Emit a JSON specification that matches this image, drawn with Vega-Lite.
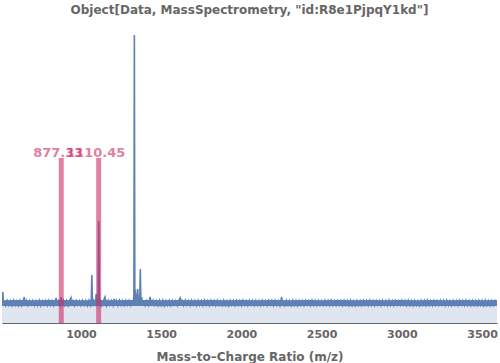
{
"$schema": "https://vega.github.io/schema/vega-lite/v6.json",
"width": 495, "height": 300,
"autosize": {"type": "none"},
"padding": {"left": 2, "top": 23, "right": 3, "bottom": 40},
"background": "white",
"title": {"text": "Object[Data, MassSpectrometry, \"id:R8e1PjpqY1kd\"]", "font": "DejaVu Sans", "fontSize": 12, "fontWeight": "bold", "color": "#666666", "offset": 6, "anchor": "middle"},
"config": {"view": {"stroke": null}},
"resolve": {"axis": {"x": "independent"}},
"datasets": {
"spec": [
{"m":508,"i":18},{"m":513,"i":31},{"m":518,"i":17.8},
{"m":520,"i":22.2},{"m":530,"i":17.6},{"m":540,"i":22.5},{"m":550,"i":17.9},{"m":560,"i":22.1},{"m":570,"i":17.5},{"m":580,"i":22.6},{"m":590,"i":18},{"m":600,"i":22},{"m":610,"i":17.7},
{"m":620,"i":22.4},{"m":630,"i":17.5},{"m":640,"i":22.3},{"m":647,"i":26},{"m":650,"i":17.9},{"m":660,"i":22.5},{"m":670,"i":17.6},{"m":680,"i":22.1},{"m":690,"i":18.1},{"m":700,"i":22.4},
{"m":710,"i":17.5},{"m":720,"i":22.2},{"m":730,"i":17.8},{"m":740,"i":22.6},{"m":750,"i":17.4},{"m":760,"i":22},{"m":770,"i":18},{"m":780,"i":22.3},{"m":790,"i":17.6},{"m":800,"i":22.5},
{"m":810,"i":17.9},{"m":820,"i":22.2},{"m":830,"i":17.5},{"m":840,"i":22.4},{"m":846,"i":25},{"m":850,"i":17.7},{"m":860,"i":22.1},{"m":870,"i":18},{"m":877,"i":26},{"m":880,"i":17.6},{"m":890,"i":22.5},
{"m":900,"i":17.8},{"m":910,"i":22.3},{"m":920,"i":17.5},{"m":930,"i":22.6},{"m":938,"i":25},{"m":940,"i":17.9},{"m":950,"i":22.2},{"m":960,"i":17.6},{"m":970,"i":22.4},{"m":980,"i":18.1},{"m":990,"i":22},
{"m":1000,"i":17.5},{"m":1010,"i":22.5},{"m":1020,"i":17.8},{"m":1030,"i":22.2},{"m":1040,"i":17.4},{"m":1050,"i":22.6},{"m":1060,"i":17.9},{"m":1064,"i":21},{"m":1068,"i":48},{"m":1072,"i":18},{"m":1080,"i":22.3},{"m":1090,"i":17.6},{"m":1095,"i":29},{"m":1100,"i":17.8},
{"m":1107,"i":22},{"m":1111,"i":102},{"m":1115,"i":18.5},{"m":1120,"i":22.4},{"m":1130,"i":17.5},{"m":1140,"i":22.1},{"m":1150,"i":26},{"m":1160,"i":17.7},{"m":1170,"i":22.5},{"m":1180,"i":18},{"m":1190,"i":22.2},
{"m":1200,"i":17.6},{"m":1207,"i":24},{"m":1210,"i":17.8},{"m":1220,"i":22.4},{"m":1230,"i":17.5},{"m":1240,"i":22.6},{"m":1250,"i":17.9},{"m":1260,"i":22.1},{"m":1270,"i":17.6},{"m":1280,"i":22.5},{"m":1290,"i":18},
{"m":1300,"i":22.3},{"m":1310,"i":17.7},{"m":1320,"i":22.6},{"m":1325,"i":18},{"m":1330,"i":28},{"m":1333,"i":288},{"m":1336,"i":19},{"m":1340,"i":33},{"m":1344,"i":20},{"m":1348,"i":29},{"m":1351,"i":21},{"m":1354,"i":34},{"m":1358,"i":20},{"m":1362,"i":27},{"m":1366,"i":19},{"m":1370,"i":54},{"m":1374,"i":18},{"m":1378,"i":26},{"m":1385,"i":17.8},{"m":1390,"i":22.4},
{"m":1400,"i":17.5},{"m":1410,"i":22.2},{"m":1420,"i":17.9},{"m":1431,"i":26},{"m":1440,"i":17.6},{"m":1450,"i":22.5},{"m":1460,"i":18},{"m":1470,"i":22.1},{"m":1480,"i":17.5},{"m":1490,"i":22.4},
{"m":1500,"i":17.8},{"m":1510,"i":22.6},{"m":1520,"i":17.4},{"m":1530,"i":22.2},{"m":1540,"i":17.9},{"m":1550,"i":22.5},{"m":1560,"i":17.6},{"m":1570,"i":22.3},{"m":1580,"i":18.1},{"m":1590,"i":22},
{"m":1600,"i":17.5},{"m":1610,"i":22.4},{"m":1618,"i":25},{"m":1625,"i":17.8},{"m":1630,"i":22.2},{"m":1640,"i":17.6},{"m":1650,"i":22.6},{"m":1660,"i":17.9},{"m":1670,"i":22.1},{"m":1680,"i":17.5},{"m":1690,"i":22.5},
{"m":1700,"i":18},{"m":1710,"i":22.3},{"m":1720,"i":17.6},{"m":1730,"i":22.4},{"m":1740,"i":17.8},{"m":1750,"i":22.1},{"m":1760,"i":17.5},{"m":1770,"i":22.6},{"m":1780,"i":17.9},{"m":1790,"i":22.2},
{"m":1800,"i":17.6},{"m":1810,"i":22.5},{"m":1820,"i":18},{"m":1830,"i":22.3},{"m":1840,"i":17.5},{"m":1850,"i":22.4},{"m":1860,"i":17.8},{"m":1870,"i":22},{"m":1880,"i":17.6},{"m":1890,"i":22.6},
{"m":1900,"i":17.9},{"m":1910,"i":22.2},{"m":1920,"i":17.4},{"m":1930,"i":22.5},{"m":1940,"i":18.1},{"m":1950,"i":22.3},{"m":1960,"i":17.6},{"m":1970,"i":22.4},{"m":1980,"i":17.8},{"m":1990,"i":22.1},
{"m":2000,"i":17.5},{"m":2010,"i":22.6},{"m":2020,"i":17.9},{"m":2030,"i":22.2},{"m":2040,"i":17.6},{"m":2050,"i":22.5},{"m":2060,"i":18},{"m":2070,"i":22.3},{"m":2080,"i":17.5},{"m":2090,"i":22.4},
{"m":2100,"i":17.8},{"m":2110,"i":22.1},{"m":2120,"i":17.6},{"m":2130,"i":22.6},{"m":2140,"i":17.9},{"m":2150,"i":22.2},{"m":2160,"i":17.5},{"m":2170,"i":22.5},{"m":2180,"i":18},{"m":2190,"i":22.3},
{"m":2200,"i":17.6},{"m":2210,"i":22.4},{"m":2220,"i":17.8},{"m":2230,"i":22.1},{"m":2240,"i":17.5},{"m":2251,"i":26},{"m":2258,"i":17.9},{"m":2260,"i":22.4},{"m":2270,"i":17.6},{"m":2280,"i":22.5},{"m":2290,"i":18},
{"m":2300,"i":22.2},{"m":2310,"i":17.5},{"m":2320,"i":22.6},{"m":2330,"i":17.8},{"m":2340,"i":22.3},{"m":2350,"i":17.6},{"m":2360,"i":22.4},{"m":2370,"i":17.9},{"m":2380,"i":22.1},{"m":2390,"i":17.5},
{"m":2400,"i":22.5},{"m":2410,"i":18},{"m":2420,"i":22.2},{"m":2430,"i":17.6},{"m":2440,"i":22.6},{"m":2450,"i":17.8},{"m":2460,"i":22.3},{"m":2470,"i":17.5},{"m":2480,"i":22.4},{"m":2490,"i":17.9},
{"m":2500,"i":22.1},{"m":2510,"i":17.6},{"m":2520,"i":22.5},{"m":2530,"i":18.1},{"m":2540,"i":22.3},{"m":2550,"i":17.5},{"m":2560,"i":22.6},{"m":2570,"i":17.8},{"m":2580,"i":22.2},{"m":2590,"i":17.6},
{"m":2600,"i":22.4},{"m":2610,"i":17.9},{"m":2620,"i":22.1},{"m":2630,"i":17.5},{"m":2640,"i":22.5},{"m":2650,"i":18},{"m":2660,"i":22.3},{"m":2670,"i":17.6},{"m":2680,"i":22.6},{"m":2690,"i":17.8},
{"m":2700,"i":22.2},{"m":2710,"i":17.5},{"m":2720,"i":22.4},{"m":2730,"i":17.9},{"m":2740,"i":22.1},{"m":2750,"i":17.6},{"m":2760,"i":22.5},{"m":2770,"i":18},{"m":2780,"i":22.3},{"m":2790,"i":17.5},
{"m":2800,"i":22.6},{"m":2810,"i":17.8},{"m":2820,"i":22.2},{"m":2830,"i":17.6},{"m":2840,"i":22.4},{"m":2850,"i":17.9},{"m":2860,"i":22.1},{"m":2870,"i":17.5},{"m":2880,"i":22.5},{"m":2890,"i":18},
{"m":2900,"i":22.3},{"m":2910,"i":17.6},{"m":2920,"i":22.6},{"m":2930,"i":17.8},{"m":2940,"i":22.2},{"m":2950,"i":17.5},{"m":2960,"i":22.4},{"m":2970,"i":17.9},{"m":2980,"i":22.1},{"m":2990,"i":17.6},
{"m":3000,"i":22.5},{"m":3010,"i":18.1},{"m":3020,"i":22.3},{"m":3030,"i":17.5},{"m":3040,"i":22.6},{"m":3050,"i":17.8},{"m":3060,"i":22.2},{"m":3070,"i":17.6},{"m":3080,"i":22.4},{"m":3090,"i":17.9},
{"m":3100,"i":22.1},{"m":3110,"i":17.5},{"m":3120,"i":22.5},{"m":3130,"i":18},{"m":3140,"i":22.3},{"m":3150,"i":17.6},{"m":3160,"i":22.6},{"m":3170,"i":17.8},{"m":3180,"i":22.2},{"m":3190,"i":17.5},
{"m":3200,"i":22.4},{"m":3210,"i":17.9},{"m":3220,"i":22.1},{"m":3230,"i":17.6},{"m":3240,"i":22.5},{"m":3250,"i":18},{"m":3260,"i":22.3},{"m":3270,"i":17.5},{"m":3280,"i":22.6},{"m":3290,"i":17.8},
{"m":3300,"i":22.2},{"m":3310,"i":17.6},{"m":3320,"i":22.4},{"m":3330,"i":17.9},{"m":3340,"i":22.1},{"m":3350,"i":17.5},{"m":3360,"i":22.5},{"m":3370,"i":18},{"m":3380,"i":22.3},{"m":3390,"i":17.6},
{"m":3400,"i":22.6},{"m":3410,"i":17.8},{"m":3420,"i":22.2},{"m":3430,"i":17.5},{"m":3440,"i":22.4},{"m":3450,"i":17.9},{"m":3460,"i":22.1},{"m":3470,"i":17.6},{"m":3480,"i":22.5},{"m":3490,"i":18.1},
{"m":3500,"i":22.3},{"m":3510,"i":17.5},{"m":3520,"i":22.6},{"m":3530,"i":17.8},{"m":3540,"i":22.2},{"m":3550,"i":17.6},{"m":3560,"i":22.4},{"m":3570,"i":17.9},{"m":3580,"i":22.1},{"m":3590,"i":17.5},{"m":3593,"i":22}
],
"band": [
{"m":508,"lo":17,"hi":22.8},{"m":600,"lo":16.8,"hi":22.9},{"m":700,"lo":17.1,"hi":22.7},{"m":800,"lo":16.9,"hi":22.9},{"m":900,"lo":16.7,"hi":23},{"m":1000,"lo":17,"hi":22.8},
{"m":1100,"lo":16.8,"hi":23.1},{"m":1200,"lo":17.1,"hi":22.8},{"m":1300,"lo":16.9,"hi":23},{"m":1400,"lo":17,"hi":22.9},{"m":1500,"lo":16.8,"hi":22.7},{"m":1600,"lo":17.1,"hi":23},
{"m":1700,"lo":16.9,"hi":22.8},{"m":1800,"lo":17,"hi":22.9},{"m":1900,"lo":16.8,"hi":22.7},{"m":2000,"lo":17.1,"hi":23},{"m":2100,"lo":16.9,"hi":22.8},{"m":2200,"lo":17,"hi":22.9},
{"m":2300,"lo":16.8,"hi":22.8},{"m":2400,"lo":17.1,"hi":23},{"m":2500,"lo":16.9,"hi":22.7},{"m":2600,"lo":17,"hi":22.9},{"m":2700,"lo":16.8,"hi":22.8},{"m":2800,"lo":17.1,"hi":23},
{"m":2900,"lo":16.9,"hi":22.7},{"m":3000,"lo":17,"hi":22.9},{"m":3100,"lo":16.8,"hi":22.8},{"m":3200,"lo":17.1,"hi":23},{"m":3300,"lo":16.9,"hi":22.7},{"m":3400,"lo":17,"hi":22.9},
{"m":3500,"lo":16.8,"hi":22.8},{"m":3593,"lo":17,"hi":22.9}
],
"hl": [
{"m": 877.33, "top": 165, "label": "877.33"},
{"m": 1110.45, "top": 165, "label": "1110.45"}
]
},
"layer": [
{
"data": {"name": "spec"},
"mark": {"type": "area", "color": "#dfe6f0", "clip": true},
"encoding": {
"x": {"field": "m", "type": "quantitative", "scale": {"domain": [508, 3593], "nice": false, "zero": false},
"axis": {"values": [1000,1500,2000,2500,3000,3500],
"format": "d", "tickSize": -4, "orient": "bottom",
"grid": false, "labelOverlap": false, "labelFlush": false,
"domainColor": "#666666", "tickColor": "#666666", "labelColor": "#666666",
"labelFont": "DejaVu Sans", "labelFontSize": 11, "labelFontWeight": "bold", "labelPadding": 9,
"title": "Mass–to–Charge Ratio (m/z)", "titleFont": "DejaVu Sans", "titleFontSize": 12, "titleFontWeight": "bold", "titleColor": "#666666", "titlePadding": 12}},
"y": {"field": "i", "type": "quantitative", "scale": {"domain": [0, 300], "nice": false}, "axis": null}
}
},
{
"data": {"name": "band"},
"mark": {"type": "area", "color": "#5e81b5", "clip": true},
"encoding": {
"x": {"field": "m", "type": "quantitative",
"axis": {"values": [600,700,800,900,1100,1200,1300,1400,1600,1700,1800,1900,2100,2200,2300,2400,2600,2700,2800,2900,3100,3200,3300,3400],
"orient": "bottom", "labels": false, "domain": false, "grid": false, "tickSize": -2.5, "tickColor": "#666666", "title": null}},
"y": {"field": "lo", "type": "quantitative"},
"y2": {"field": "hi"}
}
},
{
"data": {"name": "spec"},
"mark": {"type": "line", "color": "#5e81b5", "strokeWidth": 1.6, "clip": true},
"encoding": {
"x": {"field": "m", "type": "quantitative", "axis": null},
"y": {"field": "i", "type": "quantitative"}
}
},
{
"data": {"name": "hl"},
"mark": {"type": "rule", "color": "#cc2b66", "opacity": 0.6, "strokeWidth": 5},
"encoding": {
"x": {"field": "m", "type": "quantitative", "axis": null},
"y": {"field": "top", "type": "quantitative"},
"y2": {"datum": 0}
}
},
{
"data": {"name": "hl"},
"mark": {"type": "text", "color": "#cc2b66", "opacity": 0.6, "font": "DejaVu Sans", "fontSize": 13, "fontWeight": "bold", "baseline": "alphabetic", "dy": -1.5, "dx": -3},
"encoding": {
"x": {"field": "m", "type": "quantitative", "axis": null},
"y": {"field": "top", "type": "quantitative"},
"text": {"field": "label"}
}
}
]
}
